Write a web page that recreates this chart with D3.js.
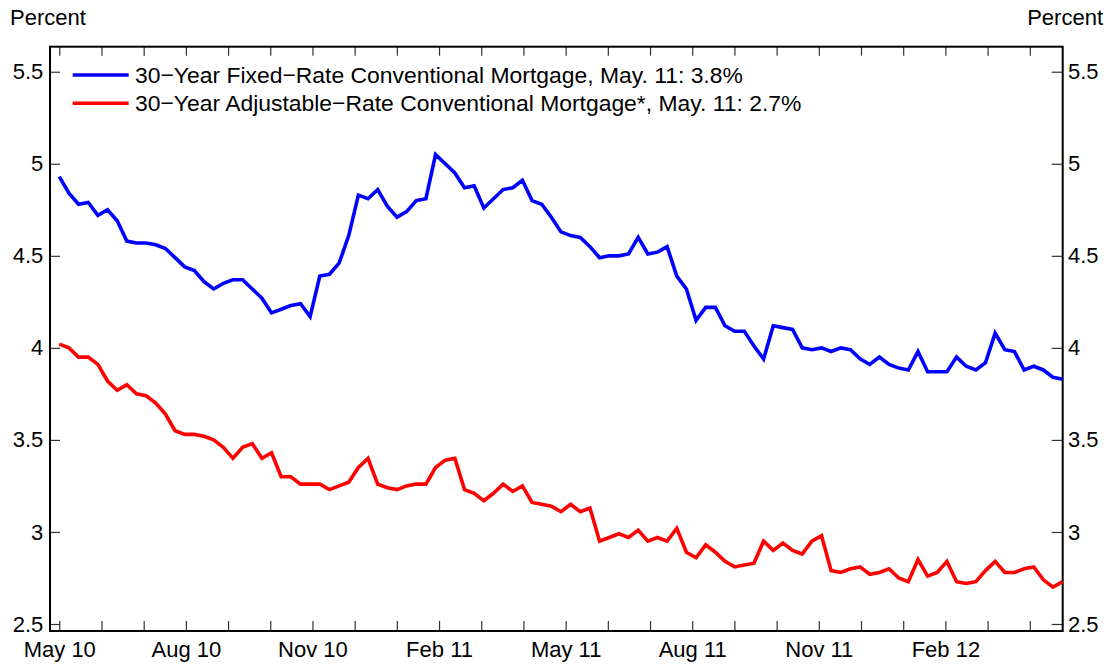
<!DOCTYPE html>
<html>
<head>
<meta charset="utf-8">
<script src="https://cdnjs.cloudflare.com/ajax/libs/d3/7.8.5/d3.min.js"></script>
<style>
    body { margin: 0; background: #fff; }
    text { font-family: "Liberation Sans", Arial, sans-serif; fill: #000; }
</style>
</head>
<body>
<div id="chartdiv"></div>
<script>

// weekly rates, May 13 2010 -> May 10 2012
var fixedRate = [4.93, 4.84, 4.78, 4.79, 4.72, 4.75, 4.69, 4.58, 4.57, 4.57,
    4.56, 4.54, 4.49, 4.44, 4.42, 4.36, 4.32, 4.35, 4.37, 4.37,
    4.32, 4.27, 4.19, 4.21, 4.23, 4.24, 4.17, 4.39, 4.40, 4.46,
    4.61, 4.83, 4.81, 4.86, 4.77, 4.71, 4.74, 4.80, 4.81, 5.05,
    5.00, 4.95, 4.87, 4.88, 4.76, 4.81, 4.86, 4.87, 4.91, 4.80,
    4.78, 4.71, 4.63, 4.61, 4.60, 4.55, 4.49, 4.50, 4.50, 4.51,
    4.60, 4.51, 4.52, 4.55, 4.39, 4.32, 4.15, 4.22, 4.22, 4.12,
    4.09, 4.09, 4.01, 3.94, 4.12, 4.11, 4.10, 4.00, 3.99, 4.00,
    3.98, 4.00, 3.99, 3.94, 3.91, 3.95, 3.91, 3.89, 3.88, 3.98,
    3.87, 3.87, 3.87, 3.95, 3.90, 3.88, 3.92, 4.08, 3.99, 3.98,
    3.88, 3.90, 3.88, 3.84, 3.83];

var adjRate = [4.02, 4.00, 3.95, 3.95, 3.91, 3.82, 3.77, 3.80, 3.75, 3.74,
    3.70, 3.64, 3.55, 3.53, 3.53, 3.52, 3.50, 3.46, 3.40, 3.46,
    3.48, 3.40, 3.43, 3.30, 3.30, 3.26, 3.26, 3.26, 3.23, 3.25,
    3.27, 3.35, 3.40, 3.26, 3.24, 3.23, 3.25, 3.26, 3.26, 3.35,
    3.39, 3.40, 3.23, 3.21, 3.17, 3.21, 3.26, 3.22, 3.25, 3.16,
    3.15, 3.14, 3.11, 3.15, 3.11, 3.13, 2.95, 2.97, 2.99, 2.97,
    3.01, 2.95, 2.97, 2.95, 3.02, 2.89, 2.86, 2.93, 2.89, 2.84,
    2.81, 2.82, 2.83, 2.95, 2.90, 2.94, 2.90, 2.88, 2.95, 2.98,
    2.79, 2.78, 2.80, 2.81, 2.77, 2.78, 2.80, 2.75, 2.73, 2.85,
    2.76, 2.78, 2.84, 2.73, 2.72, 2.73, 2.79, 2.84, 2.78, 2.78,
    2.80, 2.81, 2.74, 2.70, 2.73];

var seriesNames = ["30\u2212Year Fixed\u2212Rate Conventional Mortgage, May. 11: 3.8%",
    "30\u2212Year Adjustable\u2212Rate Conventional Mortgage*, May. 11: 2.7%"];
var seriesColors = ["#0000ff", "#ff0000"];

// month ticks (0 = May 10), labels every 3 months
var monthTicks = d3.range(0, 24);
var monthLabels = ["May 10", "Aug 10", "Nov 10", "Feb 11", "May 11", "Aug 11", "Nov 11", "Feb 12"];
var yTicks = [2.5, 3, 3.5, 4, 4.5, 5, 5.5];

var width = 1112, height = 665;
var plot = {left: 50, right: 1062.7, top: 46.7, bottom: 631};

var svg = d3.select("#chartdiv").append("svg")
    .attr("width", width)
    .attr("height", height);

// scales
var xMonth = d3.scaleLinear()
    .domain([-0.22, 23.78])
    .range([plot.left, plot.right]);

var xWeek = d3.scaleLinear()
    .domain([0, fixedRate.length - 1])
    .range([xMonth(0), xMonth(23.78)]);

var y = d3.scaleLinear()
    .domain([2.462, 5.636])
    .range([plot.bottom, plot.top]);

var fmtY = function (d) { return String(d); };

// tick marks, all pointing inward
var tickStyle = function (g) {
    g.select(".domain").remove();
    g.selectAll(".tick line").attr("stroke", "#333").attr("stroke-width", 1.2);
};

svg.append("g")
    .attr("transform", "translate(0," + plot.bottom + ")")
    .call(d3.axisBottom(xMonth).tickValues(monthTicks).tickSize(-10).tickFormat(""))
    .call(tickStyle);

svg.append("g")
    .attr("transform", "translate(0," + plot.top + ")")
    .call(d3.axisTop(xMonth).tickValues(monthTicks).tickSize(-9).tickFormat(""))
    .call(tickStyle);

// x labels
var xLabels = svg.append("g")
    .attr("transform", "translate(0," + plot.bottom + ")")
    .call(d3.axisBottom(xMonth)
        .tickValues(monthLabels.map(function (d, i) { return i * 3; }))
        .tickSize(0)
        .tickPadding(10.4)
        .tickFormat(function (d) { return monthLabels[d / 3]; }));
xLabels.select(".domain").remove();
xLabels.selectAll("text").style("font-size", "22px").attr("fill", "#000");

// y axes left and right
var yLeft = svg.append("g")
    .attr("transform", "translate(" + plot.left + ",0)")
    .call(d3.axisLeft(y).tickValues(yTicks).tickSize(-10).tickPadding(6.7).tickFormat(fmtY))
    .call(tickStyle);
yLeft.selectAll("text").style("font-size", "22px").attr("fill", "#000");

var yRight = svg.append("g")
    .attr("transform", "translate(" + plot.right + ",0)")
    .call(d3.axisRight(y).tickValues(yTicks).tickSize(-11).tickPadding(5.3).tickFormat(fmtY))
    .call(tickStyle);
yRight.selectAll("text").style("font-size", "22px").attr("fill", "#000");

// frame
svg.append("rect")
    .attr("x", plot.left)
    .attr("y", plot.top)
    .attr("width", plot.right - plot.left)
    .attr("height", plot.bottom - plot.top)
    .attr("fill", "none")
    .attr("stroke", "#000")
    .attr("stroke-width", 2);

// unit labels
svg.append("text")
    .attr("x", 10)
    .attr("y", 25)
    .style("font-size", "22px")
    .text("Percent");

svg.append("text")
    .attr("x", 1103)
    .attr("y", 25)
    .style("font-size", "22px")
    .style("text-anchor", "end")
    .text("Percent");

// lines
var line = d3.line()
    .x(function (d, i) { return xWeek(i); })
    .y(function (d) { return y(d); });

[fixedRate, adjRate].forEach(function (s, k) {
    svg.append("path")
        .datum(s)
        .attr("fill", "none")
        .attr("stroke", seriesColors[k])
        .attr("stroke-width", 3.6)
        .attr("d", line);
});

//Legend
var legend = svg.selectAll(".legend")
    .data(seriesNames)
    .enter().append("g")
    .attr("class", "legend")
    .attr("transform", function (d, i) {
        return "translate(0," + (75 + i * 28.3) + ")";
    });

legend.append("line")
    .attr("x1", 72.7)
    .attr("x2", 128.7)
    .attr("stroke", function (d, i) { return seriesColors[i]; })
    .attr("stroke-width", 3.6);

legend.append("text")
    .attr("x", 135)
    .attr("y", 8)
    .style("font-size", "22.9px")
    .text(function (d) { return d; });

</script>
</body>
</html>
